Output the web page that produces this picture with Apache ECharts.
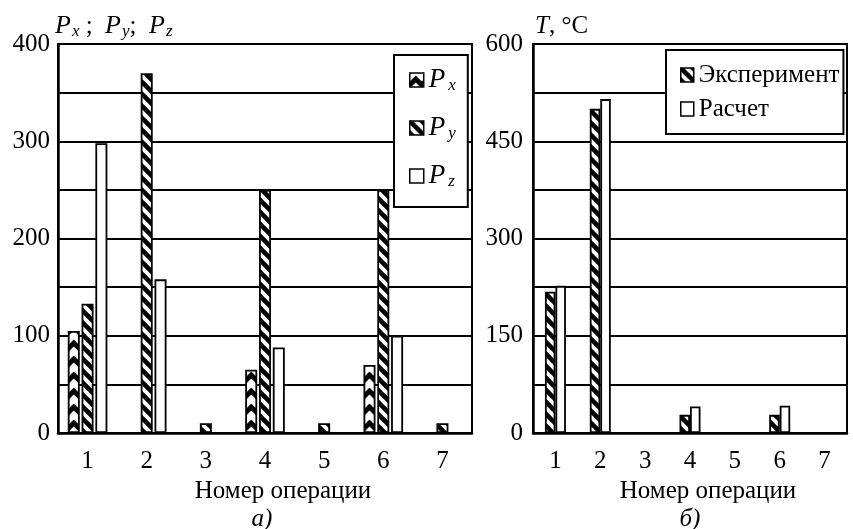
<!DOCTYPE html>
<html><head><meta charset="utf-8">
<script src="https://cdn.jsdelivr.net/npm/echarts@6/dist/echarts.min.js"></script>
<style>html,body{margin:0;padding:0;background:#fff}#c{width:853px;height:529px}</style>
</head><body><div id="c"></div>
<script>
// ---- data ----
const operations = ['1', '2', '3', '4', '5', '6', '7'];
const px = [105, 0, 0, 65, 0, 70, 0];
const py = [133, 370, 10, 250, 10, 250, 10];
const pz = [298, 158, 0, 88, 0, 100, 0];
const tExp = [218, 500, 0, 28, 0, 28, 0];
const tCalc = [227, 515, 0, 41, 0, 42, 0];
const forceTicks = [0, 100, 200, 300, 400];
const tempTicks = [0, 150, 300, 450, 600];

const FF = 'Liberation Serif';

function stripeTile() {
  const n = 12;
  const c = document.createElement('canvas'); c.width = n; c.height = n;
  const g = c.getContext('2d');
  g.fillStyle = '#fff'; g.fillRect(0, 0, n, n);
  g.strokeStyle = '#000'; g.lineWidth = 4.6; g.beginPath();
  for (const o of [-n, 0, n]) { g.moveTo(o - 2, -2); g.lineTo(o + n + 2, n + 2); }
  g.stroke();
  return c;
}
function chevronTile() {
  const c = document.createElement('canvas'); c.width = 12; c.height = 16;
  const g = c.getContext('2d');
  g.fillStyle = '#fff'; g.fillRect(0, 0, 12, 16);
  g.strokeStyle = '#000'; g.lineWidth = 4.8; g.lineJoin = 'miter'; g.beginPath();
  for (const o of [-16, 0, 16]) { g.moveTo(-2, o + 14); g.lineTo(6, o + 6); g.lineTo(14, o + 14); }
  g.stroke();
  return c;
}
const stripe = stripeTile();
const chevron = chevronTile();
const stripePat = { image: stripe, repeat: 'repeat' };
const chevronPat = { image: chevron, repeat: 'repeat' };

const rich = {
  p: { fontFamily: FF, fontStyle: 'italic', fontSize: 26, color: '#000', lineHeight: 28 },
  s: { fontFamily: FF, fontStyle: 'italic', fontSize: 17, color: '#000', lineHeight: 17, padding: [11, 0, 0, 1] },
  n: { fontFamily: FF, fontSize: 25, color: '#000', lineHeight: 28 },
  t: { fontFamily: FF, fontStyle: 'italic', fontSize: 25, color: '#000', lineHeight: 28 }
};
const legendRich = {
  p: { fontFamily: FF, fontStyle: 'italic', fontSize: 27, color: '#000', lineHeight: 28 },
  s: { fontFamily: FF, fontStyle: 'italic', fontSize: 17, color: '#000', lineHeight: 17, padding: [11, 0, 0, 3] }
};

const barBorder = { borderColor: '#000', borderWidth: 1.8 };

function xAx(gi) {
  return {
    gridIndex: gi, type: 'category', data: operations,
    axisLine: { lineStyle: { color: '#000', width: 2.5 } },
    axisTick: { length: 10, lineStyle: { color: '#000', width: 2 } },
    axisLabel: { color: '#000', fontSize: 25, fontFamily: FF, margin: 16 },
    name: 'Номер операции', nameLocation: 'middle', nameGap: 45,
    nameTextStyle: { color: '#000', fontSize: 25, fontFamily: FF, padding: [0, 0, 0, 36] }
  };
}
function yAx(gi, max, interval, ticks, name, gap, namePad) {
  return {
    gridIndex: gi, type: 'value', min: 0, max: max, interval: interval,
    axisLine: { show: true, lineStyle: { color: '#000', width: 2.5 } },
    axisTick: { show: false },
    splitLine: { lineStyle: { color: '#000', width: 2 } },
    axisLabel: { color: '#000', fontSize: 25, fontFamily: FF, margin: gap,
      formatter: v => ticks.includes(v) ? String(v) : '' },
    name: name, nameLocation: 'end', nameGap: 4,
    nameTextStyle: { align: 'left', padding: [0, 0, 0, namePad], rich: rich }
  };
}

const chart = echarts.init(document.getElementById('c'), null, { renderer: 'canvas' });
const option = {
  animation: false,
  backgroundColor: '#fff',
  grid: [
    { left: 58, right: 381, top: 44, bottom: 96, show: true, borderColor: '#000', borderWidth: 2 },
    { left: 533, right: 6, top: 44, bottom: 96, show: true, borderColor: '#000', borderWidth: 2 }
  ],
  xAxis: [xAx(0), xAx(1)],
  yAxis: [
    yAx(0, 400, 50, forceTicks, '{p|P}{s|x}{n| ;  }{p|P}{s|y}{n|;  }{p|P}{s|z}', 8, -3),
    yAx(1, 600, 75, tempTicks, '{t|T}{n|, °C}', 10, 2)
  ],
  legend: [
    {
      data: ['Px', 'Py', 'Pz'], orient: 'vertical', left: 394, top: 55,
      padding: [11, 12, 17, 15], itemWidth: 14, itemHeight: 14, itemGap: 20,
      borderColor: '#000', borderWidth: 2, backgroundColor: '#fff', borderRadius: 0,
      icon: 'rect', selectedMode: false,
      itemStyle: { borderColor: '#000', borderWidth: 1.5 },
      formatter: n => '{p|P}{s|' + n.slice(1) + '}',
      textStyle: { rich: legendRich }
    },
    {
      data: ['Эксперимент', 'Расчет'], orient: 'vertical', left: 666, top: 50,
      padding: [12, 4, 12, 14], itemWidth: 13, itemHeight: 14, itemGap: 8,
      borderColor: '#000', borderWidth: 2, backgroundColor: '#fff', borderRadius: 0,
      icon: 'rect', selectedMode: false,
      itemStyle: { borderColor: '#000', borderWidth: 1.5 },
      textStyle: { color: '#000', fontSize: 25, fontFamily: FF, lineHeight: 26 }
    }
  ],
  series: [
    { id: 'px', name: 'Px', type: 'bar', xAxisIndex: 0, yAxisIndex: 0, data: px, barWidth: 12, barGap: '15%',
      itemStyle: Object.assign({ color: chevronPat }, barBorder) },
    { id: 'py', name: 'Py', type: 'bar', xAxisIndex: 0, yAxisIndex: 0, data: py, barWidth: 12, barGap: '15%',
      itemStyle: Object.assign({ color: stripePat }, barBorder) },
    { id: 'pz', name: 'Pz', type: 'bar', xAxisIndex: 0, yAxisIndex: 0, data: pz, barWidth: 12, barGap: '15%',
      itemStyle: Object.assign({ color: '#fff' }, barBorder) },
    { id: 'te', name: 'Эксперимент', type: 'bar', xAxisIndex: 1, yAxisIndex: 1, data: tExp, barWidth: 10.5, barGap: '0%',
      itemStyle: Object.assign({ color: stripePat }, barBorder) },
    { id: 'tc', name: 'Расчет', type: 'bar', xAxisIndex: 1, yAxisIndex: 1, data: tCalc, barWidth: 10.5, barGap: '0%',
      itemStyle: Object.assign({ color: '#fff' }, barBorder) }
  ],
  graphic: [
    { type: 'text', x: 262, y: 519, style: { text: 'а)', font: 'italic 25px "Liberation Serif"', fill: '#000', textAlign: 'center', textVerticalAlign: 'middle' } },
    { type: 'text', x: 690, y: 519, style: { text: 'б)', font: 'italic 25px "Liberation Serif"', fill: '#000', textAlign: 'center', textVerticalAlign: 'middle' } }
  ]
};
chart.setOption(option);

// align the chevron pattern with each bar (uses the library's computed bar layout)
try {
  const d = chart.getModel().getSeriesByIndex(0).getData();
  const pxData = px.map((v, i) => {
    const l = d.getItemLayout(i);
    return { value: v, itemStyle: { color: { image: chevron, repeat: 'repeat', x: l.x, y: l.y } } };
  });
  chart.setOption({ series: [{ id: 'px', data: pxData }] });
} catch (e) {}
</script>
</body></html>
